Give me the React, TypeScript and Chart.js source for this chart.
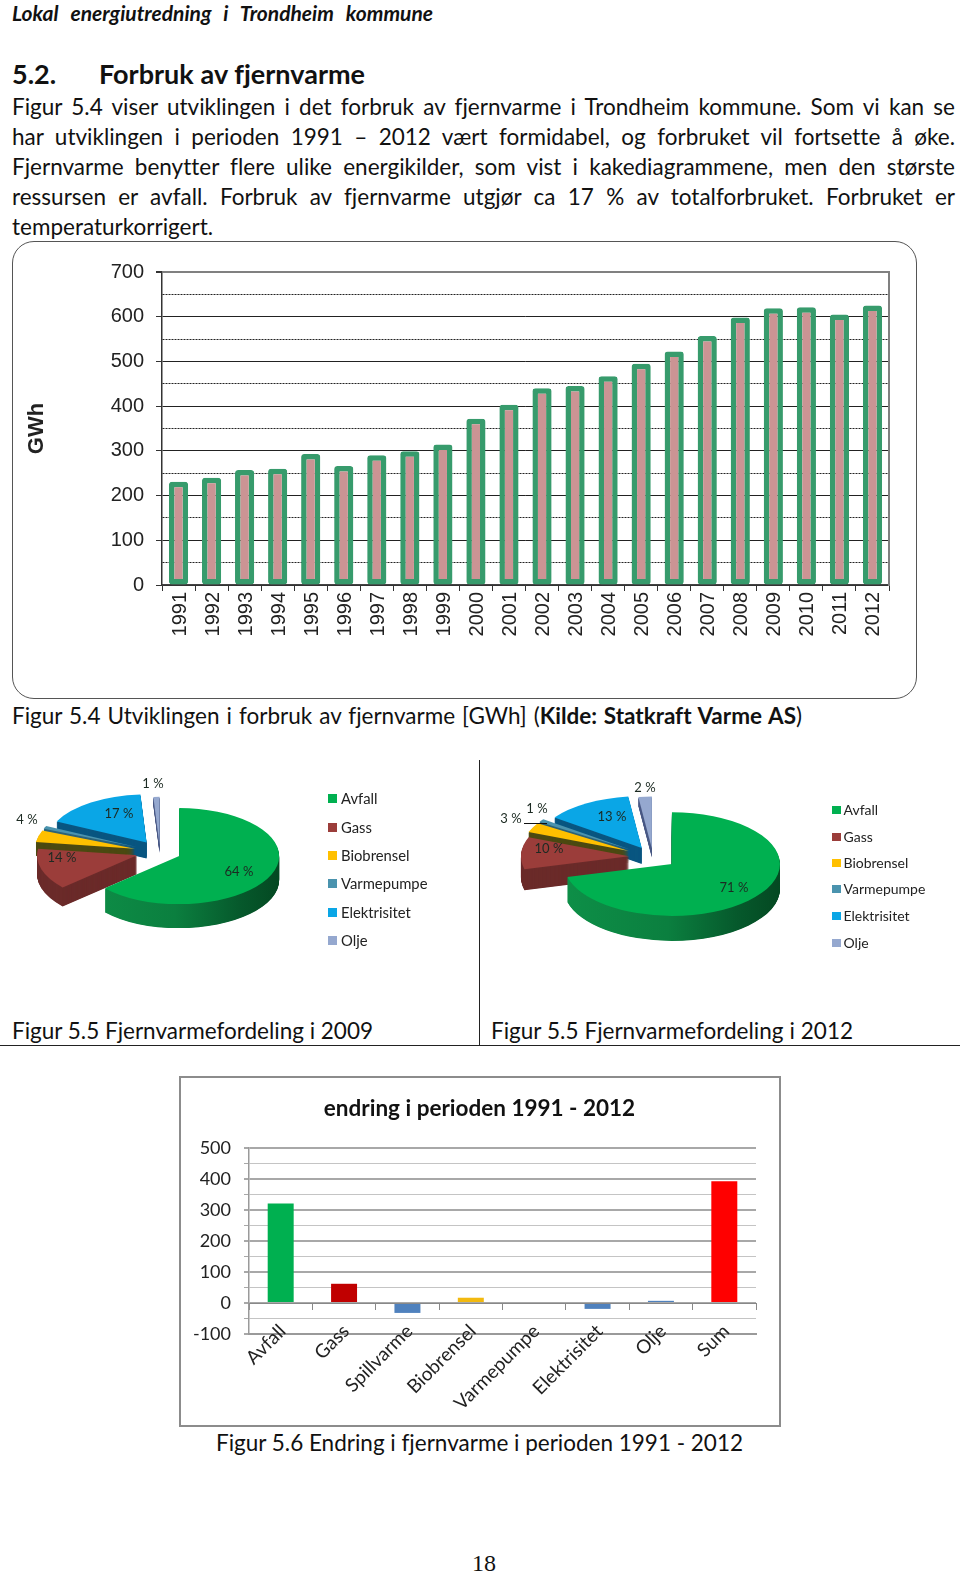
import React, { useEffect, useRef } from "react";
import { Chart, registerables } from "chart.js";

Chart.register(...registerables);

const years = ["1991","1992","1993","1994","1995","1996","1997","1998","1999","2000","2001","2002","2003","2004","2005","2006","2007","2008","2009","2010","2011","2012"];
const gwh = [231,240,257,260,293,266,290,299,314,372,403,440,445,467,495,522,557,598,619,621,605,625];

const pieCategories = ["Avfall","Gass","Biobrensel","Varmepumpe","Elektrisitet","Olje"];
const share2009 = [64,14,4,1,17,1];
const share2012 = [71,10,3,1,13,2];

const changeCategories = ["Avfall","Gass","Spillvarme","Biobrensel","Varmepumpe","Elektrisitet","Olje","Sum"];
const changeValues = [321,62,-32,17,0,-19,7,393];

const bodyLines = [
  "Figur 5.4 viser utviklingen i det forbruk av fjernvarme i Trondheim kommune. Som vi kan se",
  "har utviklingen i perioden 1991 – 2012 vært formidabel, og forbruket vil fortsette å øke.",
  "Fjernvarme benytter flere ulike energikilder, som vist i kakediagrammene, men den største",
  "ressursen er avfall. Forbruk av fjernvarme utgjør ca 17 % av totalforbruket. Forbruket er",
];

const pieTop = ["#00B050","#9B3D3A","#FFC000","#4A93AE","#0AA6E6","#95A8CF"];
const pieSide = ["#0B7D3E","#6B2B2A","#4C4A12","#2C6378","#0A5680","#4A5A85"];
const changeColors = ["#00B050","#C00000","#4F81BD","#F2B90F","#4F81BD","#4F81BD","#4F81BD","#FF0000"];

const FONT = "Lato, sans-serif";
const ARIAL = "'Liberation Sans', Arial, sans-serif";

function T({ x, w, cy, size, bold, italic, children, justify = true, color = "#111", family = FONT }: any) {
  const lh = Math.round(size * 1.4);
  return (
    <div style={{ position: "absolute", left: x, top: cy - lh / 2, width: w, lineHeight: `${lh}px`, fontSize: size,
      fontFamily: family, fontWeight: bold ? 700 : 400, fontStyle: italic ? "italic" : "normal", color, fontVariantLigatures: "none",
      wordSpacing: justify ? "-0.09em" : 0,
      textAlign: justify ? "justify" : "left", textAlignLast: justify ? "justify" : "left", whiteSpace: justify ? "normal" : "nowrap" }}>
      {children}
    </div>
  );
}

function useChart(make: (c: HTMLCanvasElement) => Chart) {
  const ref = useRef<HTMLCanvasElement>(null);
  useEffect(() => {
    const chart = make(ref.current!);
    return () => chart.destroy();
  }, []);
  return ref;
}

function BarsChart() {
  const ref = useChart((c) => new Chart(c, {
    type: "bar",
    data: { labels: years, datasets: [{ data: gwh, backgroundColor: "#CB9494", borderColor: "#379B6C", borderWidth: 5.5,
      borderSkipped: false, borderRadius: 3, barPercentage: 0.58, categoryPercentage: 1 }] },
    options: {
      animation: false, responsive: false,
      layout: { padding: { top: 31, right: 28, left: 0, bottom: 0 } },
      plugins: { legend: { display: false }, tooltip: { enabled: false } },
      scales: {
        x: {
          grid: { offset: true, drawOnChartArea: false, tickLength: 6, color: "#333", lineWidth: 1 },
          border: { color: "#444", width: 1.5 },
          ticks: { autoSkip: false, maxRotation: 90, minRotation: 90, padding: 1, labelOffset: 1.5, color: "#222", font: { family: ARIAL, size: 20 } },
          afterFit: (s: any) => { s.height = 114; },
        },
        y: {
          min: 0, max: 700,
          title: { display: true, text: "GWh", color: "#222", font: { family: ARIAL, size: 22, weight: "bold" }, padding: { top: 12, bottom: 0 } },
          grid: {
            tickLength: 6,
            color: (ctx: any) => ctx.tick.value === 700 ? "#808080" : "#222",
            lineWidth: (ctx: any) => ctx.tick.value === 700 ? 2 : 1,
            tickColor: (ctx: any) => ctx.tick.value % 100 === 0 ? "#333" : "rgba(0,0,0,0)",
          },
          border: { color: "#333", width: 1.5, dash: (ctx: any) => ctx.tick.value % 100 === 0 ? [] : [2, 1] },
          ticks: { stepSize: 50, autoSkip: false, padding: 12, color: "#222", font: { family: ARIAL, size: 20 },
            callback: (v: any) => v % 100 === 0 ? String(v) : "" },
          afterFit: (s: any) => { s.width = 150; },
        },
        y2: {
          position: "right", min: 0, max: 700,
          grid: { drawOnChartArea: false, drawTicks: false },
          border: { color: "#808080", width: 2 },
          ticks: { display: false },
          afterFit: (s: any) => { s.width = 0; },
        },
      },
    },
  } as any));
  return <canvas ref={ref} width={905} height={458} style={{ position: "absolute", left: 12, top: 241 }} />;
}

function PieChart({ values, left, top, width, height, radius, squash, depths, offsets, greenStops }: any) {
  const ref = useChart((c) => new Chart(c, {
    type: "pie",
    data: { labels: pieCategories, datasets: [{ data: values, backgroundColor: pieTop, borderWidth: 0, offset: offsets, radius }] },
    options: {
      animation: false, responsive: false,
      plugins: { legend: { display: false }, tooltip: { enabled: false } },
    },
    plugins: [{
      id: "pie3d",
      beforeDatasetsDraw(chart: any) {
        const ctx = chart.ctx as CanvasRenderingContext2D;
        const arcs = chart.getDatasetMeta(0).data as any[];
        const cy = arcs[0].y;
        const cx = arcs[0].x;
        ctx.save();
        ctx.translate(0, cy);
        ctx.scale(1, squash);
        ctx.translate(0, -cy);
        const grad = ctx.createLinearGradient(cx - radius, 0, cx + radius + 30, 0);
        greenStops.forEach((s: any) => grad.addColorStop(s[0], s[1]));
        const wedge = (a: any, ox: number, y: number) => {
          ctx.beginPath();
          ctx.moveTo(a.x + ox, y);
          ctx.arc(a.x + ox, y, a.outerRadius, a.startAngle, a.endAngle);
          ctx.closePath();
          ctx.fill();
        };
        [5, 4, 3, 2, 1, 0].forEach((i) => {
          const a = arcs[i];
          const mid = (a.startAngle + a.endAngle) / 2;
          const ox = Math.cos(mid) * a.options.offset;
          const oy = Math.sin(mid) * a.options.offset;
          ctx.fillStyle = i === 0 ? grad : pieSide[i];
          for (let d = depths[i]; d >= 1; d -= 0.5) wedge(a, ox, a.y + oy + d / squash);
          ctx.fillStyle = a.options.backgroundColor;
          wedge(a, ox, a.y + oy);
        });
        ctx.restore();
        return false;
      },
    }],
  } as any));
  return <canvas ref={ref} width={width} height={height} style={{ position: "absolute", left, top }} />;
}

function ChangeChart() {
  const ref = useChart((c) => new Chart(c, {
    type: "bar",
    data: { labels: changeCategories, datasets: [{ data: changeValues, backgroundColor: changeColors, barPercentage: 0.41, categoryPercentage: 1 }] },
    options: {
      animation: false, responsive: false,
      plugins: {
        legend: { display: false }, tooltip: { enabled: false },
        title: { display: true, text: "endring i perioden 1991 - 2012", color: "#111", font: { family: FONT, size: 22.5, weight: "bold" }, padding: { top: 18, bottom: 26 } },
      },
      scales: {
        x: {
          grid: { drawOnChartArea: false, drawTicks: false },
          border: { color: "#9a9a9a", width: 2 },
          ticks: { autoSkip: false, maxRotation: 45, minRotation: 45, padding: -14, labelOffset: 2, color: "#222", font: { family: FONT, size: 19 } },
          afterFit: (s: any) => { s.height = 92; },
          // the reference's rotated labels rise into the plot, so they must not be clipped to the axis box
          afterDataLimits: (s: any) => { s._computeLabelArea = () => undefined; },
        },
        zeroAxis: {
          type: "category", axis: "x", labels: changeCategories, position: { y: 0 },
          grid: { offset: true, drawOnChartArea: false, tickLength: 6, color: "#888" },
          border: { color: "#888", width: 1 },
          ticks: { display: false },
        },
        y: {
          min: -100, max: 500,
          grid: {
            tickLength: 5,
            color: (ctx: any) => ctx.tick.value % 100 === 0 ? "#a8a8a8" : "#c4c4c4",
            lineWidth: (ctx: any) => ctx.tick.value % 100 === 0 ? 2 : 1,
            tickColor: "#a8a8a8",
          },
          border: { color: "#9a9a9a", width: 1.5 },
          ticks: { stepSize: 50, autoSkip: false, padding: 13, color: "#222", font: { family: FONT, size: 18 },
            callback: (v: any) => v % 100 === 0 ? String(v) : "" },
          afterFit: (s: any) => { s.width = 69; },
        },
        rightGap: {
          position: "right", min: -100, max: 500,
          grid: { drawOnChartArea: false, drawTicks: false },
          border: { display: false },
          ticks: { display: false },
          afterFit: (s: any) => { s.width = 23; },
        },
      },
    },
  } as any));
  return <canvas ref={ref} width={599} height={349} style={{ position: "absolute", left: 180, top: 1077 }} />;
}

function PieLegend({ x, rows, size, swatch, gap }: any) {
  return (
    <>
      {pieCategories.map((name, i) => (
        <React.Fragment key={name}>
          <div style={{ position: "absolute", left: x, top: rows[i] - swatch / 2, width: swatch, height: swatch, background: pieTop[i] }} />
          <T x={x + swatch + gap} w={140} cy={rows[i]} size={size} justify={false} color="#222">{name}</T>
        </React.Fragment>
      ))}
    </>
  );
}

function PieLabels({ values, spots }: any) {
  return (
    <>
      {values.map((v: number, i: number) => (
        <div key={i} style={{ position: "absolute", left: spots[i][0] - 30, width: 60, top: spots[i][1] - 10, lineHeight: "20px", textAlign: "center",
          fontFamily: FONT, fontSize: 13, color: "#1c2a22", whiteSpace: "nowrap" }}>{v} %</div>
      ))}
    </>
  );
}

const greenStops = [[0, "#0E9249"], [0.5, "#0B7F3F"], [0.78, "#06592C"], [1, "#03441F"]];

export default function App() {
  return (
    <div style={{ position: "absolute", left: 0, top: 0, width: 960, height: 1574, overflow: "hidden", background: "#fff" }}>
      <T x={12} w={421} cy={12} size={21} bold italic>Lokal energiutredning i Trondheim kommune</T>
      <T x={12} w={60} cy={74} size={27} bold justify={false}>5.2.</T>
      <T x={99} w={266} cy={74} size={27} bold>Forbruk av fjernvarme</T>
      {bodyLines.map((l, i) => <T key={i} x={12} w={943} cy={106 + i * 30} size={22.5}>{l}</T>)}
      <T x={12} w={300} cy={226} size={22.5} justify={false}>temperaturkorrigert.</T>

      <div style={{ position: "absolute", left: 12, top: 241, width: 903, height: 456, border: "1.5px solid #555", borderRadius: 22 }} />
      <BarsChart />
      <T x={12} w={790} cy={715} size={22.5}>Figur 5.4 Utviklingen i forbruk av fjernvarme [GWh] (<b>Kilde: Statkraft Varme AS</b>)</T>

      <div style={{ position: "absolute", left: 479, top: 760, width: 1, height: 285, background: "#222" }} />
      <PieChart values={share2009} left={0} top={752} width={320} height={200} radius={100} squash={0.48} depths={[24, 19, 14, 14, 16, 8]}
        offsets={[21, 24, 26, 26, 24, 15]} greenStops={greenStops} />
      <PieLabels values={share2009} spots={[[239, 871], [62, 857], [27, 819], [-50, 0], [119, 813], [153, 783]]} />
      <PieLegend x={328} rows={[798, 827, 855, 883, 912, 940]} size={14.8} swatch={9} gap={4} />

      <PieChart values={share2012} left={493} top={757} width={320} height={200} radius={108} squash={0.48} depths={[25, 21, 12, 12, 16, 9]}
        offsets={[24, 24, 27, 27, 22, 18]} greenStops={greenStops} />
      <PieLabels values={share2012} spots={[[734, 887], [549, 848], [511, 818], [537, 808], [612, 816], [645, 787]]} />
      <div style={{ position: "absolute", left: 524, top: 823, width: 23, height: 1, background: "#111" }} />
      <PieLegend x={832} rows={[810, 837, 863, 889, 916, 943]} size={14} swatch={8.5} gap={3} />

      <T x={12} w={361} cy={1030} size={22.5}>Figur 5.5 Fjernvarmefordeling i 2009</T>
      <T x={491} w={362} cy={1030} size={22.5}>Figur 5.5 Fjernvarmefordeling i 2012</T>
      <div style={{ position: "absolute", left: 0, top: 1045, width: 960, height: 1, background: "#222" }} />

      <div style={{ position: "absolute", left: 179, top: 1076, width: 598, height: 347, border: "2.5px solid #8c8c8c" }} />
      <ChangeChart />
      <T x={216} w={527} cy={1442} size={22.5}>Figur 5.6 Endring i fjernvarme i perioden 1991 - 2012</T>
      <T x={472} w={30} cy={1563} size={24} justify={false} family="'Liberation Serif', serif">18</T>
    </div>
  );
}
